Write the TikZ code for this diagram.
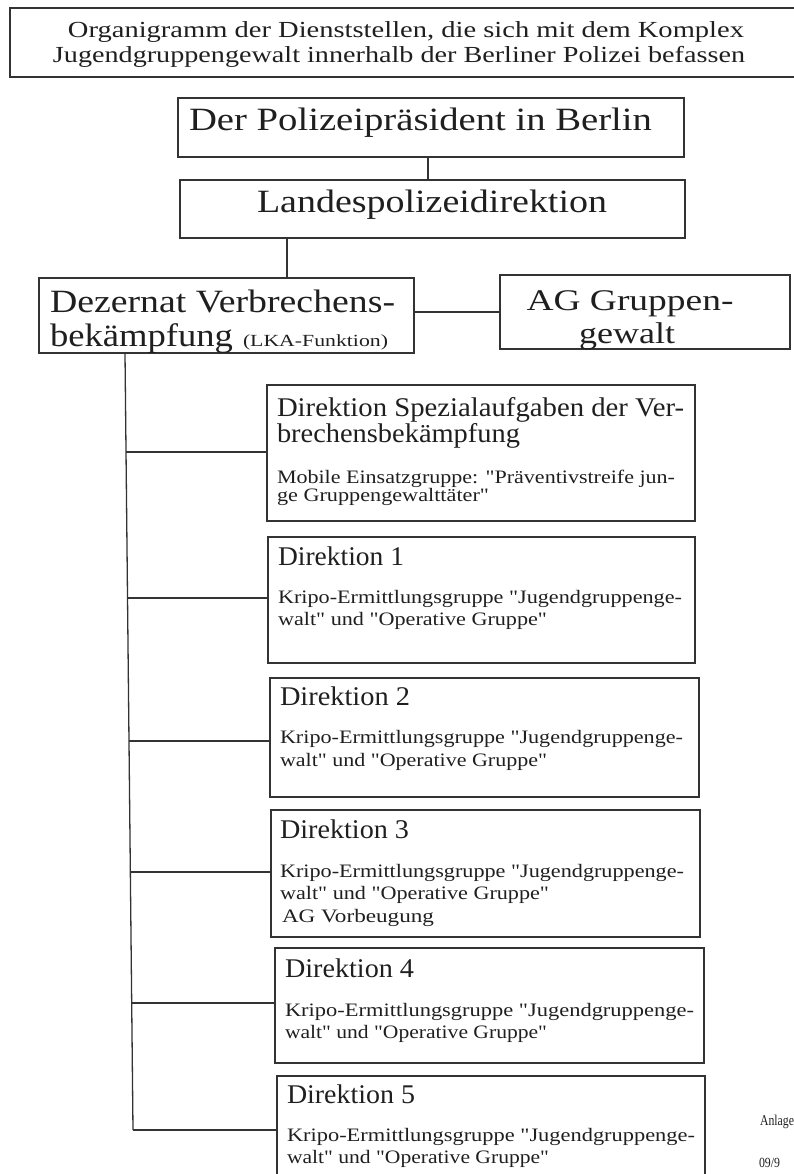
\documentclass[tikz,border=0pt]{standalone}
\usepackage{fontspec}
\usepackage{graphicx}
\usetikzlibrary{calc}
\setmainfont{Liberation Serif}[Ligatures=TeXOff]
\newcommand{\fw}[3]{\resizebox{#1pt}{\height}{\fontsize{#2}{#2}\selectfont #3}}
\begin{document}
\begin{tikzpicture}[x=1pt,y=-1pt,
  box/.style={draw=black!80, line width=1.3pt, inner sep=0pt, outer sep=0pt},
  conn/.style={draw=black!80, line width=1.3pt},
  txt/.style={inner sep=0pt, outer sep=0pt, text=black!88}]
\useasboundingbox (0,0) rectangle (794,1174);
% boxes
\node[box, minimum width=790pt, minimum height=69pt] (title) at (405,42.5) {};
\node[box, minimum width=506pt, minimum height=59pt] (poli) at (431,127.5) {};
\node[box, minimum width=505pt, minimum height=58pt] (landes) at (432.5,209) {};
\node[box, minimum width=375pt, minimum height=75pt] (dez) at (226.5,315.5) {};
\node[box, minimum width=290pt, minimum height=74pt] (ag) at (645,312) {};
\node[box, minimum width=428pt, minimum height=136pt] (spez) at (481,453) {};
\node[box, minimum width=427pt, minimum height=126pt] (d1) at (481.5,600) {};
\node[box, minimum width=429pt, minimum height=119pt] (d2) at (484.5,737.5) {};
\node[box, minimum width=429pt, minimum height=127pt] (d3) at (485.5,873.5) {};
\node[box, minimum width=429pt, minimum height=115pt] (d4) at (489.5,1005.5) {};
\node[box, minimum width=428pt, minimum height=104pt] (d5) at (491,1128) {};
% connectors
\draw[conn] (poli.south -| 428,0) -- (landes.north -| 428,0);
\draw[conn] (landes.south -| 287,0) -- (dez.north -| 287,0);
\draw[conn] (dez.east |- 0,312) -- (ag.west |- 0,312);
\coordinate (ttop) at (dez.south -| 125,0);
\coordinate (tbot) at (133,1130);
\draw[conn] (ttop) -- (tbot);
\coordinate (b0) at ($(ttop)!{(452-353)/777}!(tbot)$);
\coordinate (b1) at ($(ttop)!{(598-353)/777}!(tbot)$);
\coordinate (b2) at ($(ttop)!{(741-353)/777}!(tbot)$);
\coordinate (b3) at ($(ttop)!{(872-353)/777}!(tbot)$);
\coordinate (b4) at ($(ttop)!{(1003-353)/777}!(tbot)$);
\draw[conn] (b0) -- (b0 -| spez.west);
\draw[conn] (b1) -- (b1 -| d1.west);
\draw[conn] (b2) -- (b2 -| d2.west);
\draw[conn] (b3) -- (b3 -| d3.west);
\draw[conn] (b4) -- (b4 -| d4.west);
\draw[conn] (tbot) -- (tbot -| d5.west);
% texts
\node[txt, anchor=base] (tt1) at (406,38) {\fw{676}{23}{Organigramm der Dienststellen, die sich mit dem Komplex}};
\node[txt, anchor=base] (tt2) at (399,63) {\fw{692}{23}{Jugendgruppengewalt innerhalb der Berliner Polizei befassen}};
\node[txt, anchor=base] (tp) at (420.5,131) {\fw{463}{32.5}{Der Polizeipräsident in Berlin}};
\node[txt, anchor=base] (tl) at (432,213) {\fw{350}{32.5}{Landespolizeidirektion}};
\node[txt, anchor=base west] (tdz1) at (50,312) {\fw{345}{32.5}{Dezernat Verbrechens-}};
\node[txt, anchor=base west] (tdz2) at (50,346) {\fw{183}{32.5}{bekämpfung}};
\node[txt, anchor=base west] (tdz3) at (243,346) {\fw{145}{17}{(LKA-Funktion)}};
\node[txt, anchor=base] (ta1) at (630,310) {\fw{207}{30}{AG Gruppen-}};
\node[txt, anchor=base] (ta2) at (627,343) {\fw{96}{30}{gewalt}};
% Spezialaufgaben
\node[txt, anchor=base west] (ts1) at (277,416) {\fw{407}{27}{Direktion Spezialaufgaben der Ver-}};
\node[txt, anchor=base west] (ts2) at (277,442) {\fw{243}{27}{brechensbekämpfung}};
\node[txt, anchor=base west] (ts3) at (277,483) {\fw{398}{19}{Mobile Einsatzgruppe: "Präventivstreife jun-}};
\node[txt, anchor=base west] (ts4) at (277,501) {\fw{212}{19}{ge Gruppengewalttäter"}};
% Direktion 1
\node[txt, anchor=base west] (t1a) at (278,565) {\fw{126}{27}{Direktion 1}};
\node[txt, anchor=base west] (t1b) at (278,603) {\fw{404}{19}{Kripo-Ermittlungsgruppe "Jugendgruppenge-}};
\node[txt, anchor=base west] (t1c) at (278,625) {\fw{269}{19}{walt" und "Operative Gruppe"}};
% Direktion 2
\node[txt, anchor=base west] (t2a) at (280,705) {\fw{130}{27}{Direktion 2}};
\node[txt, anchor=base west] (t2b) at (280,743) {\fw{403}{19}{Kripo-Ermittlungsgruppe "Jugendgruppenge-}};
\node[txt, anchor=base west] (t2c) at (280,766) {\fw{267}{19}{walt" und "Operative Gruppe"}};
% Direktion 3
\node[txt, anchor=base west] (t3a) at (280,838) {\fw{129}{27}{Direktion 3}};
\node[txt, anchor=base west] (t3b) at (280,877) {\fw{404}{19}{Kripo-Ermittlungsgruppe "Jugendgruppenge-}};
\node[txt, anchor=base west] (t3c) at (280,899) {\fw{269}{19}{walt" und "Operative Gruppe"}};
\node[txt, anchor=base west] (t3d) at (282,922) {\fw{152}{19}{AG Vorbeugung}};
% Direktion 4
\node[txt, anchor=base west] (t4a) at (285,977) {\fw{129}{27}{Direktion 4}};
\node[txt, anchor=base west] (t4b) at (285,1016) {\fw{409}{19}{Kripo-Ermittlungsgruppe "Jugendgruppenge-}};
\node[txt, anchor=base west] (t4c) at (285,1038) {\fw{262}{19}{walt" und "Operative Gruppe"}};
% Direktion 5
\node[txt, anchor=base west] (t5a) at (287,1103) {\fw{128}{27}{Direktion 5}};
\node[txt, anchor=base west] (t5b) at (287,1141) {\fw{408}{19}{Kripo-Ermittlungsgruppe "Jugendgruppenge-}};
\node[txt, anchor=base west] (t5c) at (287,1163) {\fw{262}{19}{walt" und "Operative Gruppe"}};
% margin notes
\node[txt, anchor=base west] (anl) at (760,1125) {\fw{34}{15}{Anlage}};
\node[txt, anchor=base west] (num) at (759,1167) {\fw{21}{14}{09/9}};
\end{tikzpicture}
\end{document}
